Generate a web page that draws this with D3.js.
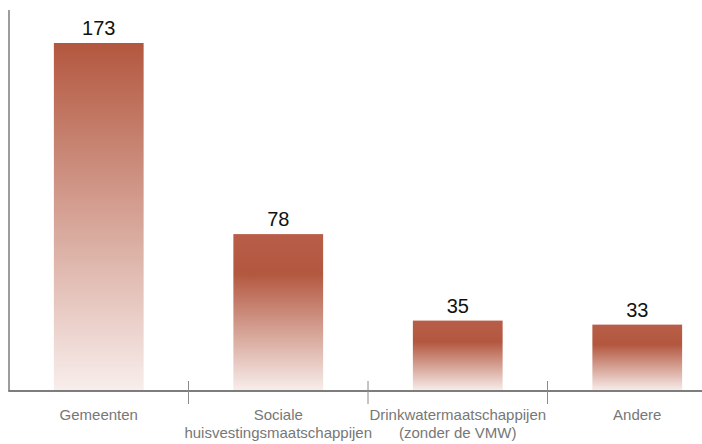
<!DOCTYPE html>
<html>
<head>
<meta charset="utf-8">
<script src="https://cdn.jsdelivr.net/npm/d3@7"></script>
<style>
  html, body { margin: 0; padding: 0; background: #fff; }
  svg { display: block; }
  text { font-family: "Liberation Sans", Arial, Helvetica, sans-serif; }
</style>
</head>
<body>
<svg id="chart" width="702" height="444"></svg>
<script>
// Data
const categories = [
  ["Gemeenten"],
  ["Sociale", "huisvestingsmaatschappijen"],
  ["Drinkwatermaatschappijen", "(zonder de VMW)"],
  ["Andere"]
];
const values = [173, 78, 35, 33];

// Where the strongest red sits inside each bar's fade (fraction of bar height)
const fadePeak = [0, 0.25, 0.3, 0.3];

const width = 702, height = 444;
const originX = 9, baseY = 391;

const svg = d3.select("#chart");

const x = d3.scaleBand()
  .domain(d3.range(values.length))
  .range([originX, 727])
  .paddingInner(0.5)
  .paddingOuter(0.25);

const y = d3.scaleLinear()
  .domain([0, 173])
  .range([baseY, 43]);

// Vertical fade gradients, one per bar
const defs = svg.append("defs");
values.forEach((v, i) => {
  const g = defs.append("linearGradient")
    .attr("id", "fade" + i)
    .attr("x1", 0).attr("y1", 0).attr("x2", 0).attr("y2", 1);
  const p = fadePeak[i];
  if (p > 0) {
    g.append("stop").attr("offset", 0).attr("stop-color", "#b85e48");
  }
  g.append("stop").attr("offset", p).attr("stop-color", "#b3573f");
  g.append("stop").attr("offset", 1).attr("stop-color", "#f8eeec");
});

// Bars
svg.append("g")
  .selectAll("rect")
  .data(values)
  .join("rect")
  .attr("x", (d, i) => x(i))
  .attr("y", d => y(d))
  .attr("width", x.bandwidth())
  .attr("height", d => y(0) - y(d))
  .attr("fill", (d, i) => `url(#fade${i})`);

// Value labels
svg.append("g")
  .selectAll("text")
  .data(values)
  .join("text")
  .attr("x", (d, i) => x(i) + x.bandwidth() / 2)
  .attr("y", d => y(d) - 8)
  .attr("text-anchor", "middle")
  .attr("font-size", 20)
  .attr("fill", "#111")
  .text(d => d);

// Y axis line
svg.append("line")
  .attr("x1", originX).attr("x2", originX)
  .attr("y1", 10).attr("y2", baseY)
  .attr("stroke", "#7d7d7d")
  .attr("stroke-width", 1.5);

// X axis line
svg.append("line")
  .attr("x1", originX - 0.75).attr("x2", width)
  .attr("y1", baseY).attr("y2", baseY)
  .attr("stroke", "#7d7d7d")
  .attr("stroke-width", 2);

// Separators between categories
const step = x.step();
svg.append("g")
  .selectAll("line")
  .data(d3.range(1, values.length))
  .join("line")
  .attr("x1", i => x(i) - step * 0.25)
  .attr("x2", i => x(i) - step * 0.25)
  .attr("y1", baseY - 10)
  .attr("y2", baseY + 13)
  .attr("stroke", "#8a8a8a")
  .attr("stroke-width", 1);

// Category labels
const labels = svg.append("g")
  .selectAll("text")
  .data(categories)
  .join("text")
  .attr("x", (d, i) => x(i) + x.bandwidth() / 2)
  .attr("y", 420)
  .attr("text-anchor", "middle")
  .attr("font-size", 15)
  .attr("fill", "#777");

labels.selectAll("tspan")
  .data((d, i) => d.map(t => ({ t, cx: x(i) + x.bandwidth() / 2 })))
  .join("tspan")
  .attr("x", d => d.cx)
  .attr("dy", (d, j) => j === 0 ? 0 : 18)
  .text(d => d.t);
</script>
</body>
</html>
